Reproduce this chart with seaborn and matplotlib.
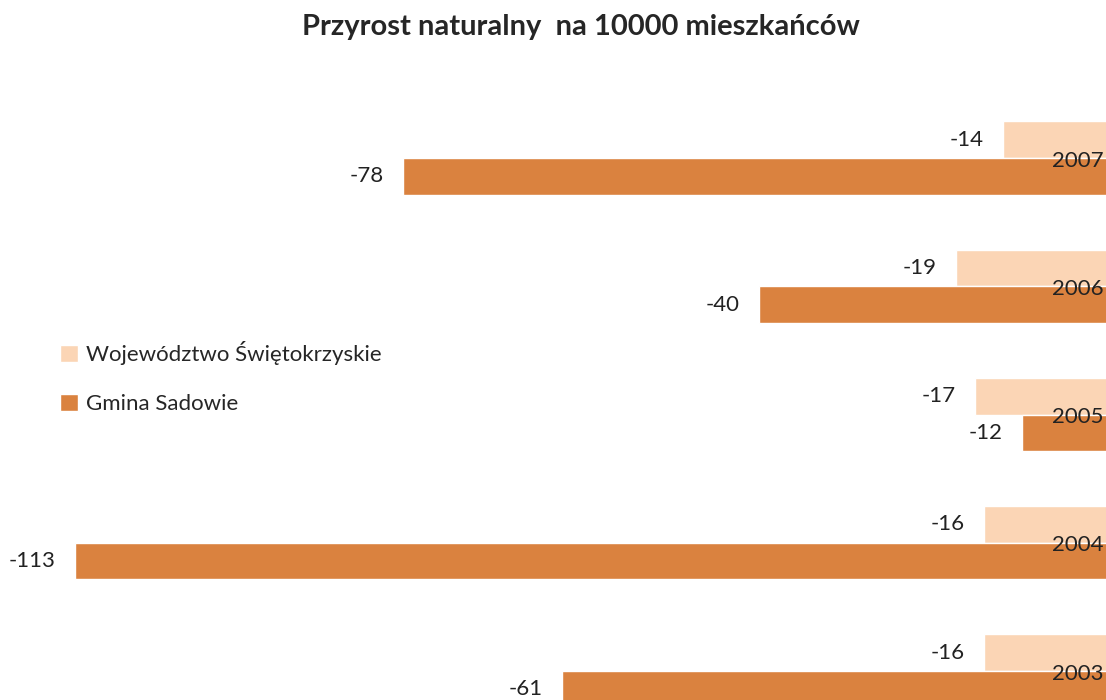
import seaborn as sns
import matplotlib.pyplot as plt
import matplotlib.transforms as mtrans
import pandas as pd

years = ['2007', '2006', '2005', '2004', '2003']
wojewodztwo = [-14, -19, -17, -16, -16]
gmina = [-78, -40, -12, -113, -61]
series_names = ['Województwo Świętokrzyskie', 'Gmina Sadowie']
colors = ['#FBD5B5', '#DA823F']

df = pd.DataFrame({
    'rok': years * 2,
    'przyrost': wojewodztwo + gmina,
    'seria': [series_names[0]] * len(years) + [series_names[1]] * len(years),
})

sns.set_style('white')
plt.rcParams['font.family'] = ['Lato', 'DejaVu Sans']

fig = plt.figure(figsize=(11.06, 7), dpi=100)
ax = fig.add_axes([0, 0, 1, 1])

sns.barplot(data=df, x='przyrost', y='rok', hue='seria', order=years,
            hue_order=series_names, palette=colors, width=0.57,
            orient='h', ax=ax, saturation=1)

for c in ax.containers:
    ax.bar_label(c, padding=14, fontsize=16, color='#222222')

# obraz jest przyciety - zero lezy za prawa krawedzia
ax.set_xlim(-121, -3)
ax.set_ylim(4.226, -1.232)
ax.axis('off')

tr = mtrans.blended_transform_factory(ax.transAxes, ax.transData)
for i, y in enumerate(years):
    ax.text(0.998, i + 0.02, y, transform=tr, ha='right', va='center',
            fontsize=16, color='#222222')

ax.legend(loc='upper left', bbox_to_anchor=(0.036, 0.541), frameon=False,
          fontsize=16, handlelength=0.8, handleheight=0.8, labelspacing=1.3,
          handletextpad=0.4)

fig.text(0.525, 0.962, 'Przyrost naturalny  na 10000 mieszkańców',
         ha='center', va='center', fontsize=21, fontweight='bold')

fig.savefig('out.png', dpi=100)
